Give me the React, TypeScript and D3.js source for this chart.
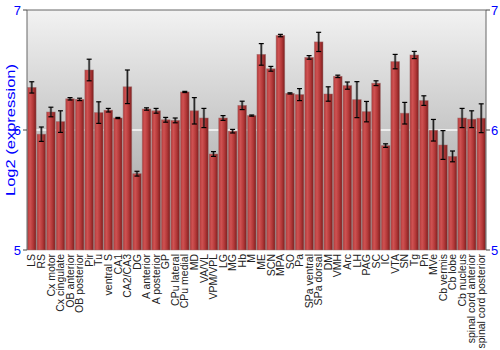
import React from "react";
import * as d3 from "d3";

const categories = ["LS","RS","Cx motor","Cx cingulate","OB anterior","OB posterior","Pir","Tu","ventral S","CA1","CA2/CA3","DG","A anterior","A posterior","GP","CPu lateral","CPu medial","MD","VA/VL","VPM/VPL","LG","MG","Hb","M","ME","SCN","MPA","SO","Pa","SPa ventral","SPa dorsal","DM","VMH","Arc","LH","PAG","SC","IC","VTA","SN","Tg","Pn","MVe","Cb vermis","Cb lobe","Cb nucleus","spinal cord anterior","spinal cord posterior"];
const values = [6.355,5.965,6.15,6.07,6.26,6.255,6.5,6.145,6.165,6.1,6.36,5.636,6.175,6.16,6.085,6.08,6.317,6.16,6.1,5.8,6.1,5.99,6.205,6.12,6.63,6.51,6.787,6.305,6.295,6.605,6.734,6.3,6.447,6.37,6.253,6.153,6.39,5.87,6.57,6.14,6.625,6.245,5.998,5.875,5.78,6.1,6.09,6.098];
const errors = [0.047,0.06,0.04,0.09,0.01,0.01,0.09,0.09,0.015,0.005,0.14,0.02,0.01,0.02,0.02,0.02,0.005,0.11,0.08,0.02,0.02,0.015,0.035,0.005,0.09,0.02,0.01,0.005,0.05,0.015,0.08,0.06,0.01,0.03,0.15,0.085,0.02,0.015,0.06,0.09,0.03,0.04,0.09,0.12,0.045,0.08,0.07,0.12];
const yTicks = [5, 6, 7];

export default function App() {
  const W = 500, H = 350;
  const left = 27, right = 486, top = 10, bottom = 250;
  const x = d3.scaleBand<string>().domain(categories).range([left, right]).paddingInner(0.1).paddingOuter(0.05);
  const y = d3.scaleLinear().domain([5, 7]).range([bottom, top]);
  const bw = x.bandwidth();
  return (
    <svg width={W} height={H} style={{ position: "absolute", left: 0, top: 0, fontFamily: "Liberation Sans, Arial, sans-serif" }}>
      <defs>
        <linearGradient id="bg" x1="0" y1="0" x2="0" y2="1">
          <stop offset="0" stopColor="#f2f2f2" />
          <stop offset="1" stopColor="#9c9c9c" />
        </linearGradient>
        <linearGradient id="bar" x1="0" y1="0" x2="1" y2="0">
          <stop offset="0" stopColor="#b23a3a" />
          <stop offset="0.3" stopColor="#cf5252" />
          <stop offset="0.65" stopColor="#b33838" />
          <stop offset="1" stopColor="#7d1e1e" />
        </linearGradient>
      </defs>
      <rect width={W} height={H} fill="#fff" />
      <rect x={left} y={top} width={right - left} height={bottom - top} fill="url(#bg)" />
      <line x1={left} x2={right} y1={y(6)} y2={y(6)} stroke="#fafafa" strokeWidth={1.5} />
      {categories.map((c, i) => {
        const x0 = x(c)!;
        const cx = x0 + bw / 2;
        const v = values[i], e = errors[i];
        return (
          <g key={c}>
            <rect x={x0} y={y(v)} width={bw} height={bottom - y(v)} fill="url(#bar)" stroke="#9a6a6a" strokeOpacity={0.6} strokeWidth={0.8} />
            <line x1={cx} x2={cx} y1={y(v + e)} y2={y(v - e)} stroke="rgba(60,60,60,0.55)" strokeWidth={2.5} />
            <line x1={cx} x2={cx} y1={y(v + e)} y2={y(v - e)} stroke="#000" strokeWidth={0.8} />
            <line x1={cx - 2.5} x2={cx + 2.5} y1={y(v + e)} y2={y(v + e)} stroke="#000" strokeWidth={1.2} />
            <line x1={cx - 2.5} x2={cx + 2.5} y1={y(v - e)} y2={y(v - e)} stroke="#000" strokeWidth={1.2} />
            <text transform={`translate(${cx},254) rotate(-90)`} dy="0.35em" textAnchor="end" fontSize={10.5} fill="#222">{c}</text>
          </g>
        );
      })}
      <line x1={left} x2={left} y1={top} y2={bottom} stroke="#666" />
      <line x1={right} x2={right} y1={top} y2={bottom} stroke="#666" />
      <line x1={left} x2={right} y1={top} y2={top} stroke="#666" />
      {yTicks.map(t => (
        <g key={t}>
          <line x1={left - 4} x2={left} y1={y(t)} y2={y(t)} stroke="#444" />
          <text x={left - 6} y={y(t)} dy="0.35em" textAnchor="end" fontSize={13} fill="#0000ff">{t}</text>
          <line x1={right} x2={right + 4} y1={y(t)} y2={y(t)} stroke="#444" />
          <text x={right + 5} y={y(t)} dy="0.35em" textAnchor="start" fontSize={13} fill="#0000ff">{t}</text>
        </g>
      ))}
      <text transform={`translate(10,${(top + bottom) / 2}) rotate(-90)`} textAnchor="middle" dy="0.35em" fontSize={13} textLength={132} lengthAdjust="spacingAndGlyphs" fill="#0000ff">Log2 (expression)</text>
    </svg>
  );
}
